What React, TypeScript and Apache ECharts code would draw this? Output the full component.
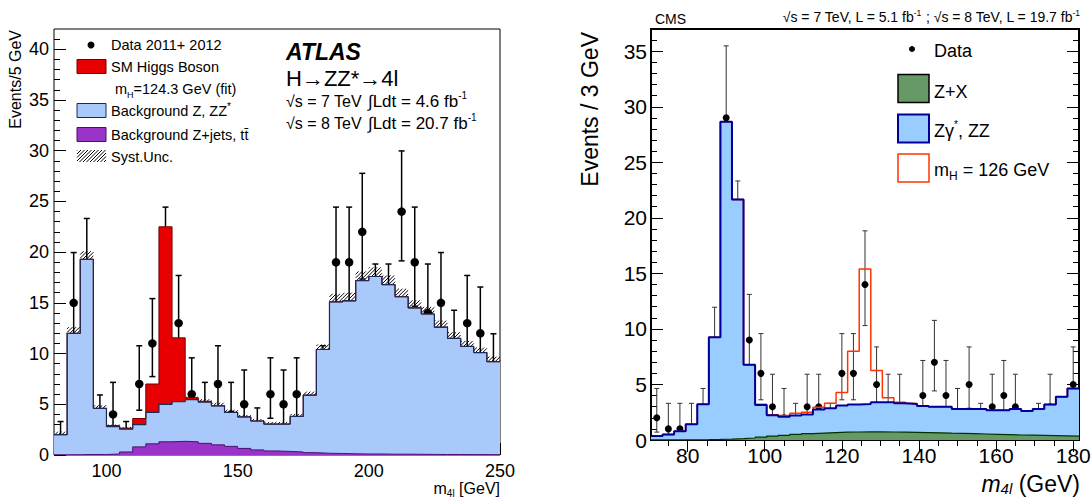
import React, { useEffect, useRef } from "react";
import * as echarts from "echarts";

const FONT = '"Liberation Sans", Arial, Helvetica, sans-serif';

// ---------------- ATLAS (left) ----------------
const atlasBinWidth = 5;
const atlasCenters = [82.5, 87.5, 92.5, 97.5, 102.5, 107.5, 112.5, 117.5, 122.5, 127.5, 132.5, 137.5, 142.5, 147.5, 152.5, 157.5, 162.5, 167.5, 172.5, 177.5, 182.5, 187.5, 192.5, 197.5, 202.5, 207.5, 212.5, 217.5, 222.5, 227.5, 232.5, 237.5, 242.5, 247.5];
const atlasZjets = [0.02, 0.03, 0.05, 0.05, 0.1, 0.3, 0.8, 1.1, 1.3, 1.35, 1.3, 1.15, 1.0, 0.85, 0.65, 0.5, 0.4, 0.35, 0.3, 0.23, 0.17, 0.15, 0.12, 0.1, 0.1, 0.08, 0.08, 0.07, 0.06, 0.05, 0.05, 0.04, 0.04, 0.03];
const atlasZZ = [1.98, 11.97, 19.25, 4.55, 2.7, 2.25, 2.2, 3.1, 3.7, 3.9, 4.15, 4.05, 3.85, 3.35, 3.1, 2.85, 2.65, 2.7, 3.5, 5.67, 10.23, 14.95, 15.08, 17.1, 17.5, 16.72, 15.52, 14.43, 13.84, 12.55, 11.45, 10.66, 10.06, 9.17];
const atlasHiggs = [0, 0, 0, 0, 0.1, 0.1, 0.6, 2.8, 17.5, 6.3, 0.2, 0.1, 0, 0, 0, 0, 0, 0, 0, 0, 0, 0, 0, 0, 0, 0, 0, 0, 0, 0, 0, 0, 0, 0];
const atlasSyst = [0.3, 0.6, 0.8, 0.3, 0.2, 0.2, 0.2, 0.25, 0.3, 0.3, 0.3, 0.3, 0.3, 0.25, 0.2, 0.2, 0.2, 0.2, 0.25, 0.35, 0.5, 0.8, 0.8, 0.9, 0.9, 0.9, 0.8, 0.75, 0.7, 0.65, 0.6, 0.55, 0.5, 0.5];
const atlasData = [1, 15, 18, 3, 4, 1, 7, 11, 19, 13, 6, 4, 7, 4, 5, 2, 6, 5, 6, 2, 7, 19, 19, 22, 14, 14, 24, 19, 14, 15, 10, 13, 12, 8];
const atlasDataLow = [0.17, 11.17, 13.79, 1.37, 2.09, 0.17, 4.42, 7.73, 14.67, 9.44, 3.62, 2.09, 4.42, 2.09, 2.86, 0.71, 3.62, 2.86, 3.62, 0.71, 4.42, 14.67, 14.67, 17.35, 10.3, 10.3, 19.14, 14.67, 10.3, 11.17, 6.89, 9.44, 8.58, 5.23];
const atlasDataHigh = [3.3, 19.96, 23.32, 5.92, 7.16, 3.3, 10.77, 15.42, 24.44, 17.7, 9.58, 7.16, 10.77, 7.16, 8.38, 4.64, 9.58, 8.38, 9.58, 4.64, 10.77, 24.44, 24.44, 27.77, 18.83, 18.83, 29.98, 24.44, 18.83, 19.96, 14.27, 17.7, 16.56, 11.95];
const atlasXMajor = [100, 150, 200, 250];
const atlasXMinor = [90, 110, 120, 130, 140, 160, 170, 180, 190, 210, 220, 230, 240];
const atlasYMajor = [0, 5, 10, 15, 20, 25, 30, 35, 40];
const atlasYMinor = [1, 2, 3, 4, 6, 7, 8, 9, 11, 12, 13, 14, 16, 17, 18, 19, 21, 22, 23, 24, 26, 27, 28, 29, 31, 32, 33, 34, 36, 37, 38, 39, 41];

// ---------------- CMS (right) ----------------
const cmsBinWidth = 3;
const cmsCenters = [72, 75, 78, 81, 84, 87, 90, 93, 96, 99, 102, 105, 108, 111, 114, 117, 120, 123, 126, 129, 132, 135, 138, 141, 144, 147, 150, 153, 156, 159, 162, 165, 168, 171, 174, 177, 180];
const cmsZX = [0.01, 0.01, 0.02, 0.02, 0.03, 0.05, 0.08, 0.12, 0.18, 0.25, 0.35, 0.42, 0.5, 0.57, 0.62, 0.67, 0.7, 0.72, 0.73, 0.73, 0.72, 0.71, 0.69, 0.67, 0.65, 0.62, 0.6, 0.57, 0.54, 0.51, 0.48, 0.45, 0.43, 0.41, 0.39, 0.37, 0.35];
const cmsZZ = [0.35, 0.49, 0.76, 1.39, 3.19, 9.19, 28.56, 21.54, 6.59, 2.91, 1.88, 1.68, 1.7, 1.73, 2.13, 2.19, 2.4, 2.48, 2.52, 2.67, 2.68, 2.59, 2.56, 2.4, 2.35, 2.38, 2.2, 2.23, 2.26, 2.17, 2.2, 2.35, 2.19, 2.39, 2.8, 3.53, 4.28];
const cmsHiggs = [0, 0, 0, 0, 0, 0, 0, 0, 0, 0.05, 0.05, 0.1, 0.2, 0.2, 0.2, 0.44, 1.17, 4.8, 12.15, 2.85, 0.4, 0.1, 0.03, 0, 0, 0, 0, 0, 0, 0, 0, 0, 0, 0, 0, 0, 0];
const cmsDataX = [72, 75, 78, 81, 84, 87, 90, 93, 96, 99, 102, 105, 108, 111, 114, 117, 120, 123, 126, 129, 132, 135, 138, 141, 144, 147, 150, 153, 156, 159, 162, 165, 171, 174, 177, 180];
const cmsData = [2, 1, 1, 1, 2, 8, 29, 18, 9, 6, 3, 2, 1, 3, 3, 1, 6, 6, 14, 5, 3, 3, 1, 4, 7, 4, 2, 5, 1, 3, 4, 3, 1, 3, 1, 5];
const cmsDataLow = [0.71, 0.17, 0.17, 0.17, 0.71, 5.23, 23.66, 13.79, 6.06, 3.62, 1.37, 0.71, 0.17, 1.37, 1.37, 0.17, 3.62, 3.62, 10.3, 2.86, 1.37, 1.37, 0.17, 2.09, 4.42, 2.09, 0.71, 2.86, 0.17, 1.37, 2.09, 1.37, 0.17, 1.37, 0.17, 2.86];
const cmsDataHigh = [4.64, 3.3, 3.3, 3.3, 4.64, 11.95, 35.48, 23.32, 13.11, 9.58, 5.92, 4.64, 3.3, 5.92, 5.92, 3.3, 9.58, 9.58, 18.83, 8.38, 5.92, 5.92, 3.3, 7.16, 10.77, 7.16, 4.64, 8.38, 3.3, 5.92, 7.16, 5.92, 3.3, 5.92, 3.3, 8.38];
const cmsXMajor = [80, 100, 120, 140, 160, 180];
const cmsXMinor = [75, 85, 90, 95, 105, 110, 115, 125, 130, 135, 145, 150, 155, 165, 170, 175];
const cmsYMajor = [0, 5, 10, 15, 20, 25, 30, 35];
const cmsYMinor = [1, 2, 3, 4, 6, 7, 8, 9, 11, 12, 13, 14, 16, 17, 18, 19, 21, 22, 23, 24, 26, 27, 28, 29, 31, 32, 33, 34, 36];

// ---------------- helpers ----------------
const add = (a: number[], b: number[]) => a.map((v, i) => v + b[i]);
function stepData(centers: number[], width: number, values: number[]) {
  const pts = centers.map((c, i) => [c - width / 2, values[i]]);
  pts.push([centers[centers.length - 1] + width / 2, values[values.length - 1]]);
  return pts;
}
function hatchLines(x0: number, y0: number, x1: number, y1: number, step: number, color: string, width: number) {
  const out: any[] = [];
  const start = Math.ceil((x0 + y0) / step) * step;
  for (let c = start; c <= x1 + y1; c += step) {
    const xa = Math.max(x0, c - y1);
    const xb = Math.min(x1, c - y0);
    if (xb > xa) out.push({ type: "line", shape: { x1: xa, y1: c - xa, x2: xb, y2: c - xb }, style: { stroke: color, lineWidth: width } });
  }
  return out;
}
function tickAxis(gridIndex: number, min: number, max: number, position: string, values: number[], len: number, label?: { size: number; margin: number }) {
  return {
    type: "value",
    gridIndex,
    min,
    max,
    position,
    axisLine: { show: false },
    splitLine: { show: false },
    axisTick: { show: true, inside: true, length: len, customValues: values, lineStyle: { color: "#000", width: 1 } },
    axisLabel: label
      ? { show: true, customValues: values, fontSize: label.size, margin: label.margin, color: "#000", fontFamily: FONT }
      : { show: false },
  };
}
function rich(size: number, sub: number, lh: number) {
  const base = { fontFamily: FONT, fill: "#000" };
  return {
    n: { ...base, fontSize: size, lineHeight: lh },
    i: { ...base, fontSize: size, lineHeight: lh, fontStyle: "italic" },
    b: { ...base, fontSize: size, lineHeight: lh, fontStyle: "italic", fontWeight: "bold" },
    sub: { ...base, fontSize: sub, lineHeight: sub, verticalAlign: "bottom" },
    isub: { ...base, fontSize: sub, lineHeight: sub, verticalAlign: "bottom", fontStyle: "italic" },
    sup: { ...base, fontSize: sub, lineHeight: sub, verticalAlign: "top" },
  };
}
function txt(x: number, y: number, text: string, size: number, sub: number, lh: number, align = "left", extra: any = {}) {
  return {
    type: "text",
    x,
    y,
    ...extra,
    style: {
      text,
      rich: rich(size, sub, lh),
      fill: "#000",
      fontFamily: FONT,
      fontSize: size,
      align,
      textAlign: align,
      verticalAlign: "middle",
      textVerticalAlign: "middle",
    },
  };
}
function errorBars(xIdx: number, yIdx: number, xs: number[], lo: number[], hi: number[], cap: number, color: string, width: number) {
  return {
    type: "custom",
    xAxisIndex: xIdx,
    yAxisIndex: yIdx,
    coordinateSystem: "cartesian2d",
    silent: true,
    encode: { x: 0, y: [1, 2] },
    data: xs.map((x, i) => [x, lo[i], hi[i]]),
    renderItem: (params: any, api: any) => {
      const x = api.value(0);
      const a = api.coord([x, api.value(1)]);
      const b = api.coord([x, api.value(2)]);
      const st = { stroke: color, lineWidth: width };
      return {
        type: "group",
        children: [
          { type: "line", shape: { x1: a[0], y1: a[1], x2: b[0], y2: b[1] }, style: st },
          { type: "line", shape: { x1: a[0] - cap, y1: a[1], x2: a[0] + cap, y2: a[1] }, style: st },
          { type: "line", shape: { x1: b[0] - cap, y1: b[1], x2: b[0] + cap, y2: b[1] }, style: st },
        ],
      };
    },
  };
}
function stepSeries(xIdx: number, yIdx: number, data: number[][], line: string, lw: number, fill?: string) {
  return {
    type: "line",
    xAxisIndex: xIdx,
    yAxisIndex: yIdx,
    step: "end",
    symbol: "none",
    silent: true,
    data,
    lineStyle: { color: line, width: lw },
    areaStyle: fill ? { color: fill, opacity: 1 } : undefined,
  };
}

function buildOption() {
  const atlasBlue = add(atlasZZ, atlasZjets);
  const atlasRed = add(atlasBlue, atlasHiggs);
  const cmsBlue = add(cmsZZ, cmsZX);
  const cmsRed = add(cmsBlue, cmsHiggs);

  const grids = [
    { left: 54, top: 29, width: 446, height: 426, show: true, borderColor: "#000", borderWidth: 1, backgroundColor: "transparent", containLabel: false, outerBoundsMode: "none" },
    { left: 54, top: 29, width: 446, height: 426, show: false, containLabel: false, outerBoundsMode: "none" },
    { left: 651, top: 29, width: 428, height: 411, show: true, borderColor: "#000", borderWidth: 2, backgroundColor: "transparent", containLabel: false, outerBoundsMode: "none" },
    { left: 651, top: 29, width: 428, height: 411, show: false, containLabel: false, outerBoundsMode: "none" },
  ];

  const xAxis = [
    tickAxis(0, 80, 250, "bottom", atlasXMajor, 12, { size: 18, margin: 7 }),
    tickAxis(1, 80, 250, "bottom", atlasXMinor, 6),
    tickAxis(2, 70.5, 181.5, "bottom", cmsXMajor, 12, { size: 21, margin: 5 }),
    tickAxis(2, 70.5, 181.5, "top", cmsXMajor, 12),
    tickAxis(3, 70.5, 181.5, "bottom", cmsXMinor, 6),
    tickAxis(3, 70.5, 181.5, "top", cmsXMinor, 6),
  ];
  const yAxis = [
    tickAxis(0, 0, 42, "left", atlasYMajor, 12, { size: 18, margin: 5 }),
    tickAxis(1, 0, 42, "left", atlasYMinor, 6),
    tickAxis(2, 0, 37, "left", cmsYMajor, 12, { size: 21, margin: 4 }),
    tickAxis(2, 0, 37, "right", cmsYMajor, 12),
    tickAxis(3, 0, 37, "left", cmsYMinor, 6),
    tickAxis(3, 0, 37, "right", cmsYMinor, 6),
  ];

  const series: any[] = [
    // ATLAS stack
    stepSeries(0, 0, stepData(atlasCenters, atlasBinWidth, atlasRed), "#6e0000", 1, "#e80000"),
    stepSeries(0, 0, stepData(atlasCenters, atlasBinWidth, atlasBlue), "#1c2a55", 1.2, "#aac9fb"),
    stepSeries(0, 0, stepData(atlasCenters, atlasBinWidth, atlasZjets), "#4a0f6e", 1, "#9a34c9"),
    {
      type: "custom",
      xAxisIndex: 0,
      yAxisIndex: 0,
      coordinateSystem: "cartesian2d",
      silent: true,
      encode: { x: 0, y: [1, 2] },
      data: atlasCenters.map((c, i) => [c, atlasBlue[i] - atlasSyst[i], atlasBlue[i] + atlasSyst[i]]),
      renderItem: (params: any, api: any) => {
        const c = api.value(0);
        const a = api.coord([c - atlasBinWidth / 2, api.value(2)]);
        const b = api.coord([c + atlasBinWidth / 2, api.value(1)]);
        return { type: "group", children: hatchLines(a[0], a[1], b[0], b[1], 3.6, "#000", 1) };
      },
    },
    errorBars(0, 0, atlasCenters, atlasDataLow, atlasDataHigh, 3, "#000", 1.5),
    {
      type: "scatter",
      xAxisIndex: 0,
      yAxisIndex: 0,
      silent: true,
      symbol: "circle",
      symbolSize: 8.5,
      itemStyle: { color: "#000", opacity: 1 },
      data: atlasCenters.map((c, i) => [c, atlasData[i]]),
    },
    // CMS stack
    stepSeries(2, 2, stepData(cmsCenters, cmsBinWidth, cmsRed), "#ff3300", 1.5),
    stepSeries(2, 2, stepData(cmsCenters, cmsBinWidth, cmsBlue), "#000099", 2, "#99ccff"),
    stepSeries(2, 2, stepData(cmsCenters, cmsBinWidth, cmsZX), "#003300", 1.2, "#669966"),
    errorBars(2, 2, cmsDataX, cmsDataLow, cmsDataHigh, 2.5, "#333", 1),
    {
      type: "scatter",
      xAxisIndex: 2,
      yAxisIndex: 2,
      silent: true,
      symbol: "circle",
      symbolSize: 7,
      itemStyle: { color: "#000", opacity: 1 },
      data: cmsDataX.map((x, i) => [x, cmsData[i]]),
    },
  ];

  const graphic: any[] = [
    // ATLAS axis titles
    txt(15, 30, "{n|Events/5 GeV}", 16, 10, 18, "right", { rotation: Math.PI / 2 }),
    txt(500, 488, "{n|m}{sub|4l}{n| [GeV]}", 16, 10, 20, "right"),
    // ATLAS legend
    { type: "circle", shape: { cx: 91, cy: 45, r: 3.5 }, style: { fill: "#000" } },
    txt(111, 45, "{n|Data 2011+ 2012}", 14.5, 9, 16),
    { type: "rect", shape: { x: 77, y: 59.5, width: 29, height: 14 }, style: { fill: "#e80000", stroke: "#6e0000", lineWidth: 1 } },
    txt(111, 67, "{n|SM Higgs Boson}", 14.5, 9, 16),
    txt(115, 89, "{n|m}{sub|H}{n|=124.3 GeV (fit)}", 14.5, 9, 20),
    { type: "rect", shape: { x: 77, y: 103.5, width: 29, height: 14 }, style: { fill: "#aac9fb", stroke: "#1c2a55", lineWidth: 1 } },
    txt(111, 111, "{n|Background Z, ZZ}{sup|*}", 14.5, 10, 20),
    { type: "rect", shape: { x: 77, y: 127.5, width: 29, height: 14 }, style: { fill: "#9a34c9", stroke: "#4a0f6e", lineWidth: 1 } },
    txt(111, 135, "{n|Background Z+jets, t\u0074\u0304}", 14.5, 9, 16),
    { type: "group", children: hatchLines(77, 150, 106, 162, 3.5, "#000", 1) },
    txt(111, 157, "{n|Syst.Unc.}", 14.5, 9, 16),
    // ATLAS annotation
    txt(286, 52, "{b|ATLAS}", 23, 12, 26),
    txt(286, 78, "{n|H\u2192ZZ*\u21924l}", 22, 12, 26),
    txt(286, 101, "{n|\u221As = 7 TeV}", 16, 10, 20),
    txt(368, 101, "{n|\u222BLdt = 4.6 fb}{sup|-1}", 17, 10, 22),
    txt(286, 123, "{n|\u221As = 8 TeV}", 16, 10, 20),
    txt(368, 123, "{n|\u222BLdt = 20.7 fb}{sup|-1}", 17, 10, 22),

    // CMS header
    txt(655, 19, "{n|CMS}", 14, 8, 16),
    txt(1080, 17, "{n|\u221As = 7 TeV, L = 5.1 fb}{sup|-1}{n| ; \u221As = 8 TeV, L = 19.7 fb}{sup|-1}", 14, 8.5, 18, "right"),
    // CMS axis titles
    txt(590, 32, "{n|Events / 3 GeV}", 23, 12, 26, "right", { rotation: Math.PI / 2 }),
    txt(1080, 484, "{i|m}{isub|4l}{n| (GeV)}", 23, 15, 24, "right"),
    // CMS legend
    { type: "circle", shape: { cx: 912, cy: 49, r: 3 }, style: { fill: "#000" } },
    txt(934, 51, "{n|Data}", 18, 11, 20),
    { type: "rect", shape: { x: 898, y: 74.5, width: 31, height: 28 }, style: { fill: "#669966", stroke: "#000", lineWidth: 1.5 } },
    txt(934, 92, "{n|Z+X}", 18, 11, 20),
    { type: "rect", shape: { x: 898, y: 114.5, width: 31, height: 28 }, style: { fill: "#99ccff", stroke: "#000099", lineWidth: 2 } },
    txt(934, 131, "{n|Z\u03B3}{sup|*}{n|, ZZ}", 18, 10, 24),
    { type: "rect", shape: { x: 898, y: 154, width: 31, height: 28 }, style: { fill: "#fff", stroke: "#ff3300", lineWidth: 1.5 } },
    txt(934, 170, "{n|m}{sub|H}{n| = 126 GeV}", 18, 12, 24),
  ];

  return {
    animation: false,
    backgroundColor: "#fff",
    grid: grids,
    xAxis,
    yAxis,
    series,
    graphic: { elements: graphic },
  };
}

export default function App() {
  const ref = useRef<HTMLDivElement>(null);
  useEffect(() => {
    const chart = echarts.init(ref.current!, null, { renderer: "svg" });
    chart.setOption(buildOption() as any);
    return () => chart.dispose();
  }, []);
  return <div ref={ref} style={{ position: "absolute", left: 0, top: 0, width: 1092, height: 500, background: "#fff" }} />;
}
